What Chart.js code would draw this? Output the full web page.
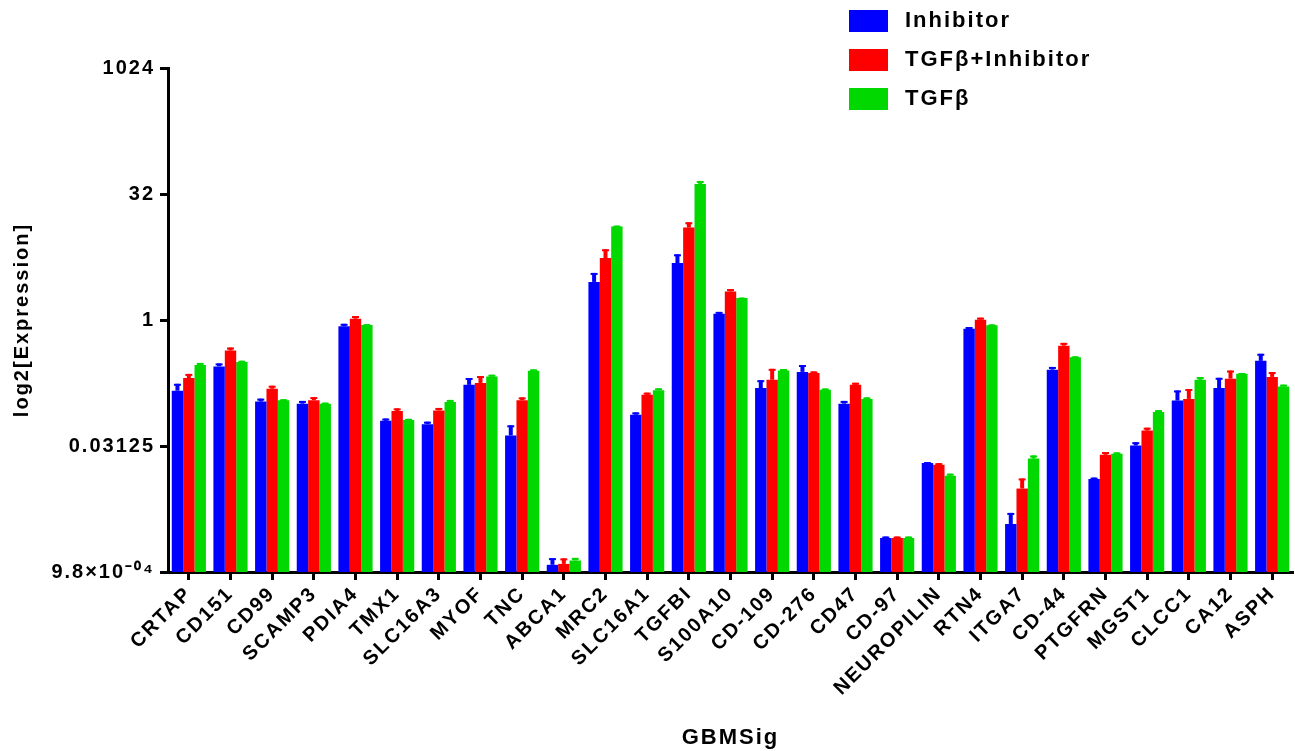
<!DOCTYPE html>
<html>
<head>
<meta charset="utf-8">
<script src="https://cdn.jsdelivr.net/npm/chart.js@4"></script>
<style>
  html, body { margin: 0; padding: 0; background: #fff; }
  #wrap { width: 1295px; height: 751px; }
</style>
</head>
<body>
<div id="wrap"><canvas id="chart" width="1295" height="751"></canvas></div>
<script>
const categories = ["CRTAP", "CD151", "CD99", "SCAMP3", "PDIA4", "TMX1", "SLC16A3", "MYOF", "TNC", "ABCA1",
    "MRC2", "SLC16A1", "TGFBI", "S100A10", "CD-109", "CD-276", "CD47", "CD-97", "NEUROPILIN", "RTN4",
    "ITGA7", "CD-44", "PTGFRN", "MGST1", "CLCC1", "CA12", "ASPH"];

const inhibitor = [0.143, 0.279, 0.106, 0.100, 0.841, 0.0625, 0.057, 0.168, 0.0418, 0.00119,
    2.85, 0.0738, 4.79, 1.19, 0.154, 0.240, 0.100, 0.00249, 0.0196, 0.785,
    0.00366, 0.255, 0.0126, 0.0317, 0.109, 0.154, 0.325];
const tgfInhibitor = [0.203, 0.432, 0.151, 0.110, 1.035, 0.082, 0.083, 0.177, 0.110, 0.00122,
    5.50, 0.1276, 12.7, 2.19, 0.193, 0.233, 0.168, 0.00249, 0.0187, 1.007,
    0.00969, 0.493, 0.0245, 0.0477, 0.114, 0.199, 0.209];
const tgf = [0.291, 0.316, 0.110, 0.100, 0.871, 0.064, 0.105, 0.212, 0.247, 0.00134,
    13.1, 0.1446, 42.2, 1.83, 0.25, 0.147, 0.114, 0.00249, 0.0138, 0.865,
    0.0221, 0.358, 0.0252, 0.0797, 0.193, 0.228, 0.161];

// standard deviations (drawn upward only)
const inhibitorErr = [0.030, 0.024, 0.009, 0.008, 0.06, 0.004, 0.004, 0.035, 0.0134, 0.00024,
    0.8, 0.005, 1.3, 0.06, 0.037, 0.05, 0.008, 0.0001, 0.0005, 0.04,
    0.0013, 0.02, 0.0005, 0.003, 0.035, 0.05, 0.07];
const tgfInhibitorErr = [0.024, 0.037, 0.013, 0.01, 0.08, 0.006, 0.006, 0.037, 0.009, 0.0002,
    1.5, 0.008, 2.0, 0.15, 0.068, 0.01, 0.01, 0.0001, 0.0008, 0.06,
    0.0031, 0.04, 0.002, 0.004, 0.036, 0.05, 0.03];
const tgfErr = [0.016, 0.01, 0.003, 0.003, 0.02, 0.002, 0.006, 0.01, 0.01, 0.0001,
    0.3, 0.008, 3.6, 0.02, 0.01, 0.005, 0.005, 0.0001, 0.0008, 0.02,
    0.002, 0.01, 0.001, 0.004, 0.015, 0.005, 0.008];

const tickValues = [0.0009765625, 0.03125, 1, 32, 1024];
const tickLabels = ["9.8\u00d710\u207b\u2070\u2074", "0.03125", "1", "32", "1024"];

const FONT = "'Liberation Sans', Arial, sans-serif";

const spacingPlugin = {
    id: "spacing",
    beforeDraw(chart) {
        chart.ctx.letterSpacing = "2px";
    }
};

const errorBars = {
    id: "errorBars",
    afterDatasetsDraw(chart) {
        const ctx = chart.ctx;
        const y = chart.scales.y;
        chart.data.datasets.forEach((ds, i) => {
            const meta = chart.getDatasetMeta(i);
            meta.data.forEach((bar, j) => {
                const top = y.getPixelForValue(ds.data[j] + ds.errors[j]);
                ctx.save();
                ctx.strokeStyle = ds.backgroundColor;
                ctx.lineWidth = 4;
                ctx.beginPath();
                ctx.moveTo(bar.x, bar.y);
                ctx.lineTo(bar.x, top);
                ctx.stroke();
                ctx.lineWidth = 2;
                ctx.beginPath();
                ctx.moveTo(bar.x - 3.5, top + 1);
                ctx.lineTo(bar.x + 3.5, top + 1);
                ctx.stroke();
                ctx.restore();
            });
        });
    }
};

const legendBox = {
    id: "legendBox",
    afterDraw(chart) {
        const ctx = chart.ctx;
        ctx.save();
        ctx.letterSpacing = "2px";
        ctx.font = "bold 22px " + FONT;
        ctx.textBaseline = "middle";
        chart.data.datasets.forEach((ds, i) => {
            const top = 10 + i * 39;
            ctx.fillStyle = ds.backgroundColor;
            ctx.fillRect(849, top, 39, 22);
            ctx.fillStyle = "#000";
            ctx.fillText(ds.label, 905, top + 11);
        });
        ctx.restore();
    }
};

new Chart(document.getElementById("chart"), {
    type: "bar",
    data: {
        labels: categories,
        datasets: [
            { label: "Inhibitor", data: inhibitor, errors: inhibitorErr, backgroundColor: "#0000ff" },
            { label: "TGF\u03b2+Inhibitor", data: tgfInhibitor, errors: tgfInhibitorErr, backgroundColor: "#ff0000" },
            { label: "TGF\u03b2", data: tgf, errors: tgfErr, backgroundColor: "#00d800" }
        ]
    },
    options: {
        responsive: false,
        animation: false,
        layout: { padding: { top: 68, right: 2, bottom: 0, left: 0 } },
        datasets: { bar: { categoryPercentage: 0.82, barPercentage: 1.0 } },
        plugins: {
            legend: { display: false },
            tooltip: { enabled: false }
        },
        scales: {
            x: {
                grid: { display: true, offset: false, drawOnChartArea: false, tickLength: 8, tickWidth: 3, tickColor: "#000" },
                border: { display: true, width: 3, color: "#000" },
                ticks: {
                    autoSkip: false, minRotation: 45, maxRotation: 45, padding: 2,
                    color: "#000", font: { family: FONT, size: 20, weight: "bold" }
                },
                title: {
                    display: true, text: "GBMSig", color: "#000", padding: 0,
                    font: { family: FONT, size: 22, weight: "bold" }
                },
                afterFit(scale) { scale.height = 179; }
            },
            y: {
                type: "logarithmic",
                min: 0.0009765625,
                max: 1024,
                afterBuildTicks(scale) {
                    scale.ticks = tickValues.map(v => ({ value: v }));
                },
                grid: { display: true, drawOnChartArea: false, tickLength: 8, tickWidth: 3, tickColor: "#000" },
                border: { display: true, width: 3, color: "#000" },
                ticks: {
                    padding: 5, color: "#000",
                    font: { family: FONT, size: 20, weight: "bold" },
                    callback: (value, index) => tickLabels[index]
                },
                title: {
                    display: true, text: "log2[Expression]", color: "#000", padding: { top: 10, bottom: 0 },
                    font: { family: FONT, size: 20, weight: "bold" }
                },
                afterFit(scale) { scale.width = 168; }
            }
        }
    },
    plugins: [spacingPlugin, errorBars, legendBox]
});
</script>
</body>
</html>
